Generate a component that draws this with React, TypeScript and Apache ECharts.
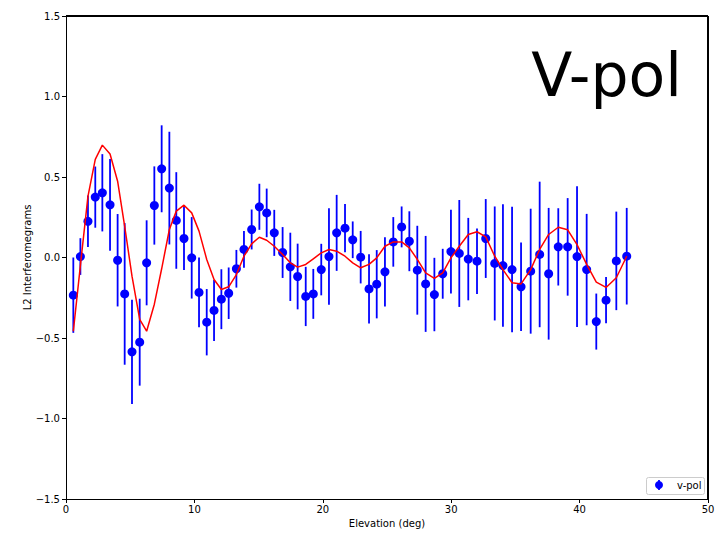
import React, { useEffect, useRef } from "react";
import * as echarts from "echarts";

const elevation = [0.57,1.12,1.71,2.28,2.83,3.43,4.02,4.57,5.14,5.74,6.28,6.88,7.45,8.05,8.59,9.19,9.79,10.36,10.96,11.53,12.1,12.67,13.27,13.86,14.46,15.06,15.63,16.22,16.87,17.47,18.04,18.67,19.26,19.88,20.48,21.08,21.73,22.33,22.95,23.6,24.2,24.84,25.49,26.14,26.74,27.36,28.01,28.69,29.34,29.98,30.63,31.33,32.01,32.69,33.39,34.03,34.74,35.44,36.19,36.89,37.59,38.34,39.07,39.8,40.55,41.3,42.06,42.86,43.67];
const vpol = [-0.234,0.006,0.225,0.375,0.402,0.327,-0.017,-0.226,-0.586,-0.526,-0.033,0.323,0.551,0.431,0.23,0.118,-0.002,-0.217,-0.402,-0.329,-0.259,-0.222,-0.07,0.05,0.174,0.315,0.277,0.153,0.031,-0.058,-0.118,-0.242,-0.226,-0.075,0.006,0.153,0.182,0.11,0.002,-0.195,-0.166,-0.089,0.097,0.19,0.101,-0.079,-0.164,-0.23,-0.101,0.037,0.025,-0.01,-0.023,0.118,-0.037,-0.05,-0.075,-0.182,-0.085,0.019,-0.101,0.066,0.066,0.006,-0.075,-0.398,-0.265,-0.021,0.008];
const vpolErr = [0.234,0.114,0.16,0.19,0.24,0.285,0.287,0.44,0.324,0.27,0.264,0.243,0.27,0.35,0.30,0.196,0.253,0.217,0.206,0.19,0.186,0.16,0.117,0.114,0.124,0.143,0.151,0.143,0.158,0.212,0.204,0.184,0.155,0.16,0.30,0.236,0.15,0.114,0.163,0.215,0.212,0.215,0.154,0.127,0.186,0.276,0.298,0.228,0.155,0.26,0.332,0.256,0.203,0.245,0.354,0.38,0.39,0.275,0.388,0.452,0.409,0.24,0.303,0.437,0.346,0.174,0.144,0.306,0.30];
const model = [-0.458,-0.05,0.38,0.609,0.698,0.643,0.474,0.194,-0.116,-0.385,-0.458,-0.29,-0.07,0.174,0.288,0.325,0.277,0.164,-0.012,-0.137,-0.199,-0.182,-0.106,0.008,0.085,0.126,0.107,0.07,0.019,-0.033,-0.06,-0.043,-0.008,0.029,0.05,0.039,0.008,-0.033,-0.064,-0.043,-0.002,0.07,0.097,0.097,0.06,-0.012,-0.095,-0.13,-0.095,-0.002,0.07,0.143,0.16,0.128,0.008,-0.075,-0.157,-0.164,-0.075,0.05,0.143,0.188,0.172,0.08,-0.043,-0.153,-0.186,-0.126,0.008];

const FONT = "DejaVu Sans";
const fmt = (v: number) => v.toFixed(1).replace("-", "\u2212");

export default function App() {
  const ref = useRef<HTMLDivElement>(null);
  useEffect(() => {
    if (!ref.current) return;
    const chart = echarts.init(ref.current, undefined, { renderer: "svg" });
    const pts = elevation.map((x, i) => [x, vpol[i]]);
    const bars = elevation.map((x, i) => [x, vpol[i] - vpolErr[i], vpol[i] + vpolErr[i]]);
    const line = elevation.map((x, i) => [x, model[i]]);
    const spine = { show: true, onZero: false, lineStyle: { color: "#000", width: 1 } };
    chart.setOption({
      animation: false,
      backgroundColor: "#ffffff",
      grid: { left: 66, top: 16, width: 642, height: 483 },
      xAxis: {
        type: "value", min: 0, max: 50, interval: 10, position: "bottom",
        name: "Elevation (deg)", nameLocation: "middle", nameGap: 19,
        nameMoveOverlap: false,
        nameTextStyle: { fontFamily: FONT, fontSize: 10, color: "#000" },
        axisLine: spine,
        axisTick: { show: true, inside: false, length: 4, lineStyle: { color: "#000" } },
        axisLabel: { fontFamily: FONT, fontSize: 10, color: "#000", margin: 5 },
        splitLine: { show: false },
      },
      yAxis: {
        type: "value", min: -1.5, max: 1.5, interval: 0.5, position: "left",
        name: "L2 Interferomegrams", nameLocation: "middle", nameGap: 34,
        nameMoveOverlap: false,
        nameTextStyle: { fontFamily: FONT, fontSize: 10, color: "#000" },
        axisLine: spine,
        axisTick: { show: true, inside: false, length: 4, lineStyle: { color: "#000" } },
        axisLabel: { fontFamily: FONT, fontSize: 10, color: "#000", margin: 6, formatter: fmt },
        splitLine: { show: false },
      },
      series: [
        {
          type: "custom",
          data: bars,
          z: 2,
          renderItem: (params: any, api: any) => {
            const x = api.value(0);
            const p1 = api.coord([x, api.value(1)]);
            const p2 = api.coord([x, api.value(2)]);
            return {
              type: "line",
              shape: { x1: p1[0], y1: p1[1], x2: p2[0], y2: p2[1] },
              style: { stroke: "#0000ff", lineWidth: 1.8 },
            };
          },
        },
        {
          type: "scatter",
          data: pts,
          symbol: "circle",
          symbolSize: 9,
          itemStyle: { color: "#0000ff", opacity: 1 },
          z: 3,
        },
        {
          type: "line",
          data: line,
          showSymbol: false,
          symbol: "none",
          lineStyle: { color: "#ff0000", width: 1.5 },
          z: 4,
        },
      ],
      graphic: [
        {
          type: "rect",
          shape: { x: 66, y: 15, width: 642, height: 2 },
          style: { fill: "#000" },
          silent: true,
          z: 9,
        },
        {
          type: "rect",
          shape: { x: 707, y: 16, width: 2, height: 483 },
          style: { fill: "#000" },
          silent: true,
          z: 9,
        },
        {
          type: "text",
          x: 682, y: 75,
          style: { text: "V-pol", font: `60px '${FONT}'`, fill: "#000", textAlign: "right", textVerticalAlign: "middle" },
        },
        {
          type: "rect",
          shape: { x: 646.5, y: 477.5, width: 58, height: 17, r: 2 },
          style: { fill: "#fff", stroke: "#cccccc", lineWidth: 1 },
          z: 10,
        },
        {
          type: "line",
          shape: { x1: 659, y1: 480, x2: 659, y2: 490 },
          style: { stroke: "#0000ff", lineWidth: 1.8 },
          z: 11,
        },
        {
          type: "circle",
          shape: { cx: 659, cy: 485, r: 4 },
          style: { fill: "#0000ff" },
          z: 11,
        },
        {
          type: "text",
          x: 677, y: 485.5,
          style: { text: "v-pol", font: `10px '${FONT}'`, fill: "#000", textAlign: "left", textVerticalAlign: "middle" },
          z: 11,
        },
      ],
    });
    return () => chart.dispose();
  }, []);
  return <div ref={ref} style={{ position: "fixed", left: 0, top: 0, width: 722, height: 542 }} />;
}
